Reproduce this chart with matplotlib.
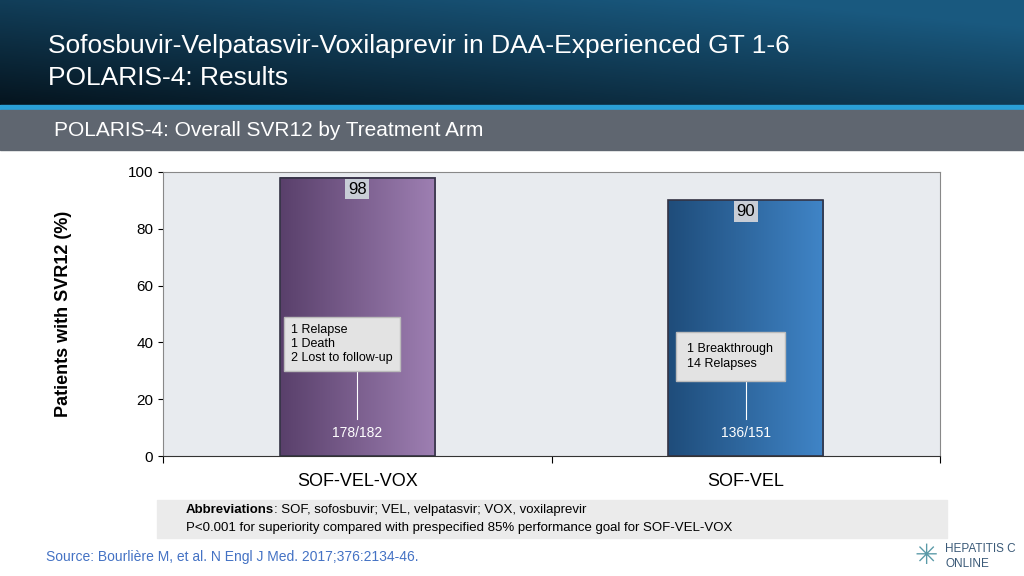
import numpy as np
import matplotlib
matplotlib.use("Agg")
import matplotlib.pyplot as plt
from matplotlib.patches import Rectangle

categories = ["SOF-VEL-VOX", "SOF-VEL"]
svr = [98, 90]
counts = ["178/182", "136/151"]
notes = ["1 Relapse\n1 Death\n2 Lost to follow-up", "1 Breakthrough\n14 Relapses"]
yticks = [0, 20, 40, 60, 80, 100]

plt.rcParams["font.family"] = "Liberation Sans"
fig = plt.figure(figsize=(10.24, 5.76), dpi=100)

hax = fig.add_axes([0, 1 - 105/576, 1, 105/576])
grad = np.linspace(0, 1, 256)[None, :]
yy = np.linspace(0, 1, 64)[:, None]
c1 = np.array([0.02, 0.08, 0.12]); c2 = np.array([0.10, 0.35, 0.50])
t = np.clip(0.55*grad + 0.6*(1-yy), 0, 1)
img = c1*(1-t[..., None]) + c2*t[..., None]
hax.imshow(img, aspect="auto", extent=[0, 1, 0, 1], origin="upper")
hax.axis("off")
fig.add_artist(Rectangle((0, 1-110/576), 1, 5/576, transform=fig.transFigure, color="#2a9fd6"))
fig.add_artist(Rectangle((0, 1-150/576), 1, 40/576, transform=fig.transFigure, color="#5f6670"))
fig.text(48/1024, 1-46/576, "Sofosbuvir-Velpatasvir-Voxilaprevir in DAA-Experienced GT 1-6",
         color="white", fontsize=19, va="center")
fig.text(48/1024, 1-78/576, "POLARIS-4: Results", color="white", fontsize=19, va="center")
fig.text(54/1024, 1-131/576, "POLARIS-4: Overall SVR12 by Treatment Arm",
         color="white", fontsize=15, va="center")

ax = fig.add_axes([163/1024, 120/576, 777/1024, 284/576])
ax.set_facecolor("#e8ebef")
x = np.arange(len(categories))
ax.set_xlim(-0.5, 1.5)
ax.set_ylim(0, 100)
w = 0.40
cmaps = [(np.array([0.35, 0.25, 0.42]), np.array([0.62, 0.50, 0.70])),
         (np.array([0.12, 0.30, 0.48]), np.array([0.25, 0.52, 0.78]))]
bars = ax.bar(x, svr, width=w, color="none", edgecolor="#333344", linewidth=1.2, zorder=3)
for i, b in enumerate(bars):
    a, c = cmaps[i]
    g = np.linspace(0, 1, 128)[None, :, None]
    im = a*(1-g) + c*g
    ax.imshow(im, aspect="auto", extent=[b.get_x(), b.get_x()+w, 0, svr[i]], zorder=2)
    ax.text(x[i], svr[i]-4, str(svr[i]), ha="center", va="center", fontsize=12,
            bbox=dict(facecolor="#c8cdd6", edgecolor="none", pad=2), zorder=5)
    ax.text(x[i], 8, counts[i], ha="center", va="center", color="white", fontsize=10, zorder=5)
ax.plot([x[0], x[0]], [13, 38], color="white", lw=0.8, zorder=4)
ax.plot([x[1], x[1]], [13, 26], color="white", lw=0.8, zorder=4)
ax.text(x[0]-0.17, 39.5, notes[0], ha="left", va="center", fontsize=9, linespacing=1.2,
        bbox=dict(facecolor="#e3e3e3", edgecolor="#bbbbbb", boxstyle="square,pad=0.6"), zorder=5)
ax.text(x[1]-0.15, 35, notes[1], ha="left", va="center", fontsize=9, linespacing=1.3,
        bbox=dict(facecolor="#e3e3e3", edgecolor="#bbbbbb", boxstyle="square,pad=0.9"), zorder=5)
ax.set_yticks(yticks)
ax.set_yticklabels([str(v) for v in yticks], fontsize=11)
ax.set_xticks([-0.5, 0.5, 1.5])
ax.set_xticklabels(["", "", ""])
ax.tick_params(axis="x", length=5)
for i, c in enumerate(categories):
    ax.text(x[i], -6, c, ha="center", va="top", fontsize=13)
ax.set_ylabel("Patients with SVR12 (%)", fontsize=13, fontweight="bold", labelpad=40)
for s in ["left", "right", "top"]:
    ax.spines[s].set_color("#888888")
ax.spines["bottom"].set_color("#333333")

fig.add_artist(Rectangle((157/1024, 1-538/576), 790/1024, 38/576, transform=fig.transFigure, color="#ebebeb"))
t1 = fig.text(186/1024, 1-510/576, "Abbreviations", fontsize=9.5, va="center", fontweight="bold")
fig.canvas.draw()
bb = t1.get_window_extent()
fig.text(bb.x1/1024, 1-510/576, ": SOF, sofosbuvir; VEL, velpatasvir; VOX, voxilaprevir",
         fontsize=9.5, va="center")
fig.text(186/1024, 1-528/576, "P<0.001 for superiority compared with prespecified 85% performance goal for SOF-VEL-VOX",
         fontsize=9.5, va="center")
fig.text(46/1024, 1-557/576, "Source: Bourlière M, et al. N Engl J Med. 2017;376:2134-46.",
         fontsize=10, color="#4472c4", va="center")
fig.text(945/1024, 1-549/576, "HEPATITIS C", fontsize=8.5, color="#3b5a78", va="center")
fig.text(945/1024, 1-564/576, "ONLINE", fontsize=8.5, color="#3b5a78", va="center")
fig.text(926/1024, 1-556/576, "✳", fontsize=20, color="#5a9aa8", va="center", ha="center",
         fontfamily="DejaVu Sans")
fig.savefig("out.png", dpi=100)
